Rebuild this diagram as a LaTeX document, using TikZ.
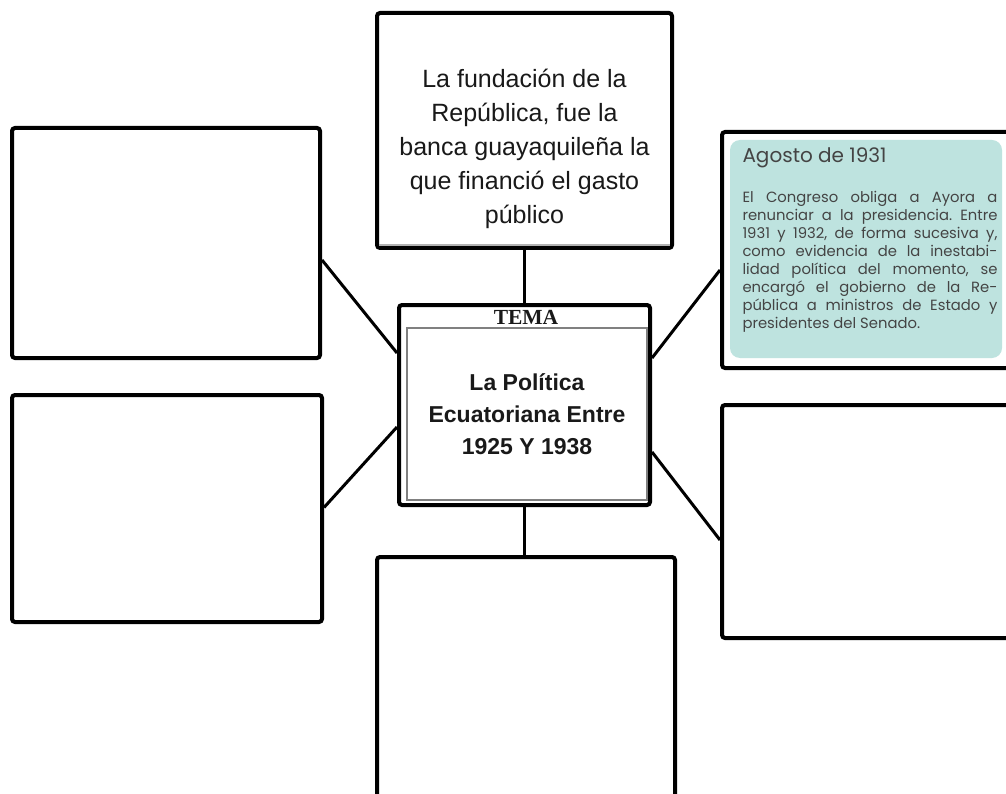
\documentclass[tikz,border=0pt]{standalone}
\usepackage{fontspec}
\setmainfont{Liberation Sans}
\newfontfamily\temafont{Liberation Serif}
\newfontfamily\factfont{Poppins}
\usepackage{tikz}
\definecolor{factteal}{RGB}{190,227,223}
\definecolor{facttext}{RGB}{68,68,68}
\definecolor{inktext}{RGB}{25,25,25}

\begin{document}
\begin{tikzpicture}[x=1pt, y=-1pt,
        box/.style = {draw=black, line width=4pt, rounded corners=3pt, inner sep=0pt},
        link/.style = {draw=black, line width=3pt}]
        \fill[white] (0,0) rectangle (1006,794);
        \useasboundingbox (0,0) rectangle (1006,794);
        \clip (0,0) rectangle (1006,794);

        % tema central
        \node[box, minimum width=251pt, minimum height=200pt] (tema) at (524.5, 405) {};
        \node[draw=gray, line width=1.5pt, minimum width=240pt, minimum height=172pt,
              font={\fontsize{23}{32}\selectfont\bfseries}, text=inktext, align=center] (titulo) at (527, 414)
              {La Política\\Ecuatoriana Entre\\1925 Y 1938};
        \node[font={\temafont\fontsize{21.5}{22}\selectfont\bfseries}, text=inktext] (tematag) at (526, 317) {TEMA};

        % cajas de alrededor
        \node[box, minimum width=295pt, minimum height=235pt] (arriba) at (524.5, 130.5) {};
        \node[font={\fontsize{25}{34}\selectfont}, text=inktext, align=center] (arribatxt) at (524.5, 149)
              {La fundación de la\\República, fue la\\banca guayaquileña la\\que financió el gasto\\público};
        \draw[gray!60, line width=1.5pt] ([xshift=4pt, yshift=5pt]arriba.south west) -- ([xshift=-4pt, yshift=5pt]arriba.south east);

        \node[box, minimum width=308pt, minimum height=230pt] (izqarriba) at (166, 243) {};
        \node[box, minimum width=310pt, minimum height=227pt] (izqabajo) at (167, 508.5) {};
        \node[box, minimum width=308pt, minimum height=236pt] (derarriba) at (876, 250) {};
        \node[box, minimum width=308pt, minimum height=233pt] (derabajo) at (876, 521.5) {};
        \node[box, minimum width=298pt, minimum height=273pt] (abajo) at (526, 693.5) {};

        % recuadro de agosto 1931
        \node[fill=factteal, rounded corners=10pt, minimum width=272pt, minimum height=218pt] (hecho) at (866, 249) {};
        \node[font={\factfont\fontsize{14.8}{18}\selectfont\frenchspacing}, text=facttext, text width=255pt, align=justify, inner sep=0pt] (hechotxt) at (870, 240)
              {{\fontsize{20}{22}\selectfont Agosto de 1931\par}\vspace{22pt}%
              El Congreso obliga a Ayora a\linebreak
              renunciar a la presidencia. Entre\linebreak
              1931 y 1932, de forma sucesiva y,\linebreak
              como evidencia de la inestabi-\linebreak
              lidad política del momento, se\linebreak
              encargó el gobierno de la Re-\linebreak
              pública a ministros de Estado y\linebreak
              presidentes del Senado.};

        % conectores
        \draw[link] (arriba.south) -- (tema.north);
        \draw[link] (tema.south) -- (tema.south |- abajo.north);
        \draw[link] ([yshift=-17pt]izqarriba.east) -- ([yshift=52pt]tema.west);
        \draw[link] ([yshift=1pt]izqabajo.east) -- ([yshift=-22pt]tema.west);
        \draw[link] ([yshift=-20pt]derarriba.west) -- ([yshift=47pt]tema.east);
        \draw[link] ([yshift=-18.5pt]derabajo.west) -- ([yshift=-47pt]tema.east);
\end{tikzpicture}
\end{document}
